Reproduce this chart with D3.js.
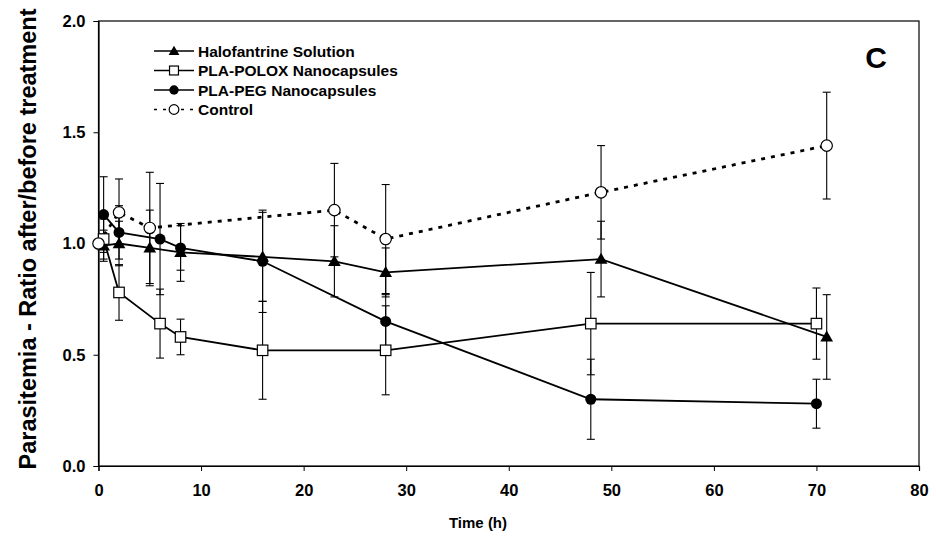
<!DOCTYPE html>
<html>
<head>
<meta charset="utf-8">
<script src="https://cdn.jsdelivr.net/npm/d3@7"></script>
<style>
  body { margin: 0; background: #fff; }
  text { font-family: "Liberation Sans", Arial, sans-serif; font-weight: bold; fill: #000; }
</style>
</head>
<body>
<div id="chart"></div>
<script>
// series: time (h), mean ratio, error
const haloTime = [0.5, 2, 5, 8, 16, 23, 28, 49, 71];
const haloMean = [0.99, 1.0, 0.98, 0.96, 0.94, 0.92, 0.87, 0.93, 0.58];
const haloErr = [0.07, 0.1, 0.17, 0.13, 0.2, 0.16, 0.11, 0.17, 0.19];

const poloxTime = [0.5, 2, 6, 8, 16, 28, 48, 70];
const poloxMean = [1.02, 0.78, 0.64, 0.58, 0.52, 0.52, 0.64, 0.64];
const poloxErr = [0.09, 0.125, 0.155, 0.08, 0.22, 0.2, 0.23, 0.16];

const pegTime = [0.5, 2, 6, 8, 16, 28, 48, 70];
const pegMean = [1.13, 1.05, 1.02, 0.98, 0.92, 0.65, 0.3, 0.28];
const pegErr = [0.17, 0.12, 0.25, 0.1, 0.23, 0.12, 0.18, 0.11];

const ctrlTime = [0, 2, 5, 23, 28, 49, 71];
const ctrlMean = [1.0, 1.14, 1.07, 1.15, 1.02, 1.23, 1.44];
const ctrlErr = [0, 0.15, 0.25, 0.21, 0.245, 0.21, 0.24];

const seriesNames = ["Halofantrine Solution", "PLA-POLOX Nanocapsules", "PLA-PEG Nanocapsules", "Control"];
const xTicks = [0, 10, 20, 30, 40, 50, 60, 70, 80];
const yTicks = [0, 0.5, 1.0, 1.5, 2.0];

const W = 936, H = 537;
const mLeft = 98.5, mRight = 919, mTop = 21, mBottom = 466;

const svg = d3.select("#chart").append("svg").attr("width", W).attr("height", H);

const x = d3.scaleLinear().domain([0, 80]).range([mLeft, mRight]);
const y = d3.scaleLinear().domain([0, 2]).range([mBottom, mTop]);

function toRows(t, m, e) {
  return t.map((d, i) => ({ t: d, m: m[i], e: e[i] }));
}

const series = [
  { name: seriesNames[0], rows: toRows(haloTime, haloMean, haloErr), marker: "tri", dash: null },
  { name: seriesNames[1], rows: toRows(poloxTime, poloxMean, poloxErr), marker: "square", dash: null },
  { name: seriesNames[2], rows: toRows(pegTime, pegMean, pegErr), marker: "dot", dash: null },
  { name: seriesNames[3], rows: toRows(ctrlTime, ctrlMean, ctrlErr), marker: "ring", dash: "4,6" }
];

// frame
svg.append("rect")
  .attr("x", mLeft).attr("y", mTop)
  .attr("width", mRight - mLeft).attr("height", mBottom - mTop)
  .attr("fill", "none").attr("stroke", "#000").attr("stroke-width", 1.2);

// axes
const xAxis = svg.append("g")
  .attr("transform", `translate(0,${mBottom})`)
  .call(d3.axisBottom(x).tickValues(xTicks).tickSize(5).tickPadding(13).tickFormat(d3.format("d")));
const yAxis = svg.append("g")
  .attr("transform", `translate(${mLeft},0)`)
  .call(d3.axisLeft(y).tickValues(yTicks).tickSize(5).tickPadding(8).tickFormat(d3.format(".1f")));
[xAxis, yAxis].forEach((g) => {
  g.select(".domain").attr("stroke-width", 1.2);
  g.selectAll("text").style("font-size", "16.5px").style("font-family", "Liberation Sans, Arial, sans-serif").style("font-weight", "bold");
});

// error bars
const cap = 4;
series.forEach((s) => {
  const g = svg.append("g").attr("stroke", "#000").attr("stroke-width", 1.1);
  s.rows.filter((d) => d.e > 0).forEach((d) => {
    const cx = x(d.t);
    g.append("line").attr("x1", cx).attr("x2", cx).attr("y1", y(d.m - d.e)).attr("y2", y(d.m + d.e));
    [d.m - d.e, d.m + d.e].forEach((v) => {
      g.append("line").attr("x1", cx - cap).attr("x2", cx + cap).attr("y1", y(v)).attr("y2", y(v));
    });
  });
});

// lines
const line = d3.line().x((d) => x(d.t)).y((d) => y(d.m));
series.forEach((s) => {
  svg.append("path")
    .datum(s.rows)
    .attr("d", line)
    .attr("fill", "none")
    .attr("stroke", "#000")
    .attr("stroke-width", s.dash ? 2.8 : 1.8)
    .attr("stroke-dasharray", s.dash);
});

function drawMarker(g, kind, cx, cy, scale) {
  const k = scale || 1;
  if (kind === "tri") {
    g.append("path")
      .attr("d", d3.symbol(d3.symbolTriangle, 70 * k * k)())
      .attr("transform", `translate(${cx},${cy + 1})`)
      .attr("fill", "#000");
  } else if (kind === "square") {
    const s = 10.5 * k;
    g.append("rect").attr("x", cx - s / 2).attr("y", cy - s / 2).attr("width", s).attr("height", s)
      .attr("fill", "#fff").attr("stroke", "#000").attr("stroke-width", 1.2);
  } else if (kind === "dot") {
    g.append("circle").attr("cx", cx).attr("cy", cy).attr("r", 5.5 * k).attr("fill", "#000");
  } else {
    g.append("circle").attr("cx", cx).attr("cy", cy).attr("r", 5.7 * k)
      .attr("fill", "#fff").attr("stroke", "#000").attr("stroke-width", 1.2);
  }
}

// markers
series.forEach((s) => {
  const g = svg.append("g");
  s.rows.forEach((d) => drawMarker(g, s.marker, x(d.t), y(d.m)));
});

// legend
const legend = svg.append("g");
series.forEach((s, i) => {
  const ly = 51 + i * 19.5;
  legend.append("line")
    .attr("x1", 154).attr("x2", 194).attr("y1", ly).attr("y2", ly)
    .attr("stroke", "#000").attr("stroke-width", s.dash ? 1.6 : 1.3)
    .attr("stroke-dasharray", s.dash ? "3,6" : null);
  drawMarker(legend, s.marker, 174, ly, 0.85);
  legend.append("text")
    .attr("x", 198).attr("y", ly + 5.5)
    .style("font-size", "15.5px")
    .text(s.name);
});

// panel letter
svg.append("text").attr("x", 876).attr("y", 68).attr("text-anchor", "middle").style("font-size", "30px").text("C");

// axis titles
svg.append("text")
  .attr("x", 478).attr("y", 528)
  .attr("text-anchor", "middle")
  .style("font-size", "15px")
  .text("Time (h)");

svg.append("text")
  .attr("transform", `translate(36,239) rotate(-90)`)
  .attr("text-anchor", "middle")
  .style("font-size", "23.5px")
  .text("Parasitemia - Ratio after/before treatment");
</script>
</body>
</html>
